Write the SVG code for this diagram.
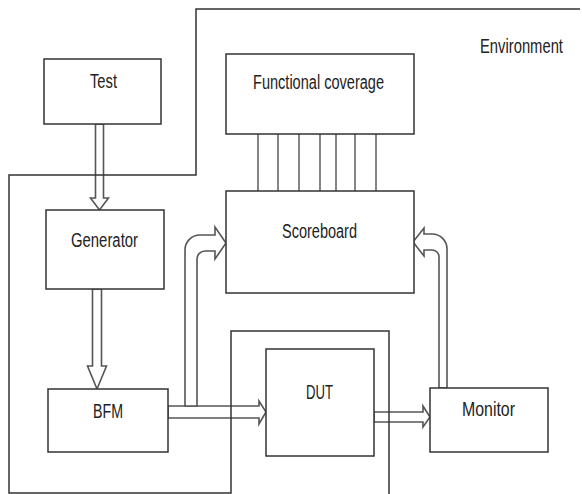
<svg xmlns="http://www.w3.org/2000/svg" width="582" height="494" viewBox="0 0 582 494">
<style>
.box{fill:#fff;stroke:#333;stroke-width:1.5}
.arr{fill:#fff;stroke:#555;stroke-width:1.6;stroke-linejoin:miter}
.env{fill:none;stroke:#333;stroke-width:1.5}
.bus{stroke:#333;stroke-width:1.2}
text{font-family:"Liberation Sans",Arial,sans-serif;font-size:19.5px;fill:#222}
</style>
<rect width="582" height="494" fill="#fff"/>
<g id="connectors">
<polygon class="arr" points="95.5,124 103.5,124 103.5,198 108.5,198 99.5,210 90.5,198 95.5,198"/>
<polygon class="arr" points="92.5,289 101.5,289 101.5,366 106.5,366 97,389 87.5,366 92.5,366"/>
<polygon class="arr" points="168,406 259,406 259,401 266,412 259,424 259,418 168,418"/>
<polygon class="arr" points="374,412 423,412 423,406 430,417 423,427 423,422 374,422"/>
<path class="arr" d="M185,406 V250 A15,15 0 0 1 200,235 H215 V227 L226,243 L215,259 V251 H205 A8,8 0 0 0 197,259 V406 Z"/>
<path class="arr" d="M447,388 V249 A15,15 0 0 0 432,234 H424 V228 L413,242 L424,256 V250 H432 A7,7 0 0 1 439,257 V388 Z"/>
<g id="coverage-bus">
<line class="bus" x1="258" y1="134" x2="258" y2="191"/>
<line class="bus" x1="278" y1="134" x2="278" y2="191"/>
<line class="bus" x1="299" y1="134" x2="299" y2="191"/>
<line class="bus" x1="320" y1="134" x2="320" y2="191"/>
<line class="bus" x1="336" y1="134" x2="336" y2="191"/>
<line class="bus" x1="355" y1="134" x2="355" y2="191"/>
<line class="bus" x1="376" y1="134" x2="376" y2="191"/>
</g>
</g>
<g id="environment">
<path class="env" d="M580,9 H196 V175 H9 V493 H231 V331 H389 V494"/>
<text transform="translate(480,53) scale(0.758,1)" x="0" y="0">Environment</text>
</g>
<g id="test">
<rect class="box" x="44" y="59" width="117" height="65"/>
<text x="90" y="88" textLength="27" lengthAdjust="spacingAndGlyphs">Test</text>
</g>
<g id="functional-coverage">
<rect class="box" x="226" y="54" width="188" height="80"/>
<text x="253" y="89" textLength="131" lengthAdjust="spacingAndGlyphs">Functional coverage</text>
</g>
<g id="generator">
<rect class="box" x="46" y="210" width="118" height="79"/>
<text x="71" y="247" textLength="67" lengthAdjust="spacingAndGlyphs">Generator</text>
</g>
<g id="scoreboard">
<rect class="box" x="226" y="191" width="188" height="102"/>
<text x="282" y="238" textLength="75" lengthAdjust="spacingAndGlyphs">Scoreboard</text>
</g>
<g id="bfm">
<rect class="box" x="48" y="389" width="120" height="63"/>
<text x="93" y="418" textLength="30" lengthAdjust="spacingAndGlyphs">BFM</text>
</g>
<g id="dut">
<rect class="box" x="266" y="349" width="108" height="107"/>
<text x="306" y="399" textLength="27" lengthAdjust="spacingAndGlyphs">DUT</text>
</g>
<g id="monitor">
<rect class="box" x="430" y="388" width="118" height="64"/>
<text x="462" y="416" textLength="53" lengthAdjust="spacingAndGlyphs">Monitor</text>
</g>
</svg>
